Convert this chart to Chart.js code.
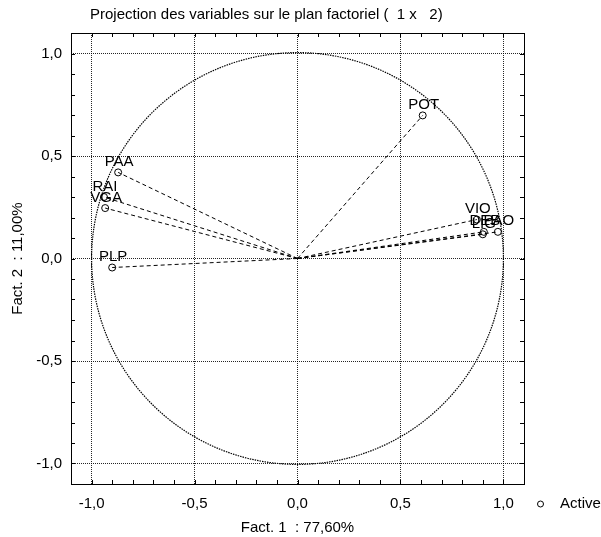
<!DOCTYPE html>
<html>
<head>
<meta charset="utf-8">
<script src="https://cdn.jsdelivr.net/npm/chart.js@4"></script>
<style>
  html, body { margin: 0; padding: 0; background: #fff; }
  #wrap { width: 601px; height: 537px; }
</style>
</head>
<body>
<div id="wrap"><canvas id="pcaChart"></canvas></div>
<script>
// Variables projected on factorial plane (1 x 2)
const varNames = ['POT', 'PAA', 'RAI', 'VGA', 'PLP', 'VIO', 'DEB', 'LIG', 'PAO'];
const fact1 = [0.608, -0.871, -0.94, -0.934, -0.90, 0.871, 0.905, 0.90, 0.973];
const fact2 = [0.698, 0.42, 0.30, 0.246, -0.044, 0.19, 0.13, 0.118, 0.13];
const tickVals = [-1, -0.5, 0, 0.5, 1];
const axisMin = -1.1;
const axisMax = 1.1;

const chartTitle = 'Projection des variables sur le plan factoriel (  1 x   2)';
const FONT = 'Liberation Sans, Arial, sans-serif';

function fmt(v) {
    return v.toFixed(1).replace('.', ',');
}

// one dashed segment from origin per variable
const vectorSets = varNames.map(function (name, i) {
    return {
        label: name + '_vec',
        data: [{ x: 0, y: 0 }, { x: fact1[i], y: fact2[i] }],
        showLine: true,
        borderColor: '#000',
        borderWidth: 1,
        borderDash: [4, 3],
        pointRadius: 0,
        pointHoverRadius: 0
    };
});

const activeSet = {
    label: 'Active',
    data: varNames.map(function (n, i) { return { x: fact1[i], y: fact2[i] }; }),
    pointStyle: 'circle',
    pointRadius: 3.5,
    borderColor: '#000',
    borderWidth: 1,
    backgroundColor: 'rgba(255,255,255,0)',
    showLine: false
};

// title, unit circle, frame, minor ticks, labels, legend
const decorPlugin = {
    id: 'decor',
    beforeDatasetsDraw(chart) {
        const ctx = chart.ctx;
        const xs = chart.scales.x, ys = chart.scales.y;
        const cx = xs.getPixelForValue(0), cy = ys.getPixelForValue(0);
        const r = xs.getPixelForValue(1) - cx;
        ctx.save();
        ctx.strokeStyle = '#000';
        ctx.lineWidth = 1.2;
        ctx.setLineDash([1.5, 1]);
        ctx.beginPath();
        ctx.arc(cx, cy, r, 0, Math.PI * 2);
        ctx.stroke();
        ctx.restore();
    },
    afterDatasetsDraw(chart) {
        const ctx = chart.ctx;
        const a = chart.chartArea;
        const xs = chart.scales.x, ys = chart.scales.y;
        ctx.save();
        // title
        ctx.fillStyle = '#000';
        ctx.font = '15px ' + FONT;
        ctx.textAlign = 'left';
        ctx.textBaseline = 'middle';
        ctx.fillText(chartTitle, 90, 15);
        // frame
        ctx.strokeStyle = '#000';
        ctx.lineWidth = 1;
        ctx.setLineDash([]);
        ctx.strokeRect(Math.round(a.left) + 0.5, Math.round(a.top) + 0.5,
            Math.round(a.right - a.left), Math.round(a.bottom - a.top));
        // inward minor ticks every 0.1
        ctx.beginPath();
        for (let k = -10; k <= 10; k++) {
            const v = k / 10;
            const px = Math.round(xs.getPixelForValue(v)) + 0.5;
            const py = Math.round(ys.getPixelForValue(v)) + 0.5;
            ctx.moveTo(px, a.bottom); ctx.lineTo(px, a.bottom - 4);
            ctx.moveTo(px, a.top); ctx.lineTo(px, a.top + 4);
            ctx.moveTo(a.left, py); ctx.lineTo(a.left + 4, py);
            ctx.moveTo(a.right, py); ctx.lineTo(a.right - 4, py);
        }
        ctx.stroke();
        // point labels
        ctx.textAlign = 'center';
        ctx.textBaseline = 'bottom';
        varNames.forEach(function (name, i) {
            const px = xs.getPixelForValue(fact1[i]);
            const py = ys.getPixelForValue(fact2[i]);
            ctx.fillText(name, px + 1, py - 3);
        });
        // legend
        const ly = 504;
        ctx.beginPath();
        ctx.arc(540.5, ly, 3, 0, Math.PI * 2);
        ctx.stroke();
        ctx.textAlign = 'left';
        ctx.textBaseline = 'middle';
        ctx.fillText(activeSet.label, 560, ly);
        ctx.restore();
    }
};

function initChart() {
    const el = document.getElementById('pcaChart');
    const gridOpts = {
        color: 'rgba(0,0,0,0.85)',
        lineWidth: 1,
        drawTicks: false
    };
    new Chart(el, {
        type: 'scatter',
        data: { datasets: vectorSets.concat([activeSet]) },
        options: {
            responsive: true,
            maintainAspectRatio: false,
            animation: false,
            events: [],
            layout: { padding: { left: 0, right: 77, top: 33, bottom: 0 } },
            plugins: {
                legend: { display: false },
                tooltip: { enabled: false }
            },
            scales: {
                x: {
                    type: 'linear',
                    min: axisMin,
                    max: axisMax,
                    afterBuildTicks: function (s) { s.ticks = tickVals.map(function (v) { return { value: v }; }); },
                    afterFit: function (s) { s.height = 53; },
                    border: { display: false, dash: [1, 1] },
                    grid: Object.assign({}, gridOpts),
                    ticks: {
                        color: '#000',
                        padding: 11,
                        maxRotation: 0,
                        font: { family: FONT, size: 15 },
                        callback: function (v) { return fmt(v); }
                    },
                    title: {
                        display: true,
                        text: 'Fact. 1  : 77,60%',
                        color: '#000',
                        font: { family: FONT, size: 15 },
                        padding: { top: 0, bottom: 0 }
                    }
                },
                y: {
                    type: 'linear',
                    min: axisMin,
                    max: axisMax,
                    afterBuildTicks: function (s) { s.ticks = tickVals.map(function (v) { return { value: v }; }); },
                    afterFit: function (s) { s.width = 71; },
                    border: { display: false, dash: [1, 1] },
                    grid: Object.assign({}, gridOpts),
                    ticks: {
                        color: '#000',
                        padding: 9,
                        font: { family: FONT, size: 15 },
                        callback: function (v) { return fmt(v); }
                    },
                    title: {
                        display: true,
                        text: 'Fact. 2  : 11,00%',
                        color: '#000',
                        font: { family: FONT, size: 15 },
                        padding: { top: 9, bottom: 0 }
                    }
                }
            }
        },
        plugins: [decorPlugin]
    });
}

document.addEventListener('DOMContentLoaded', initChart);
</script>
</body>
</html>
